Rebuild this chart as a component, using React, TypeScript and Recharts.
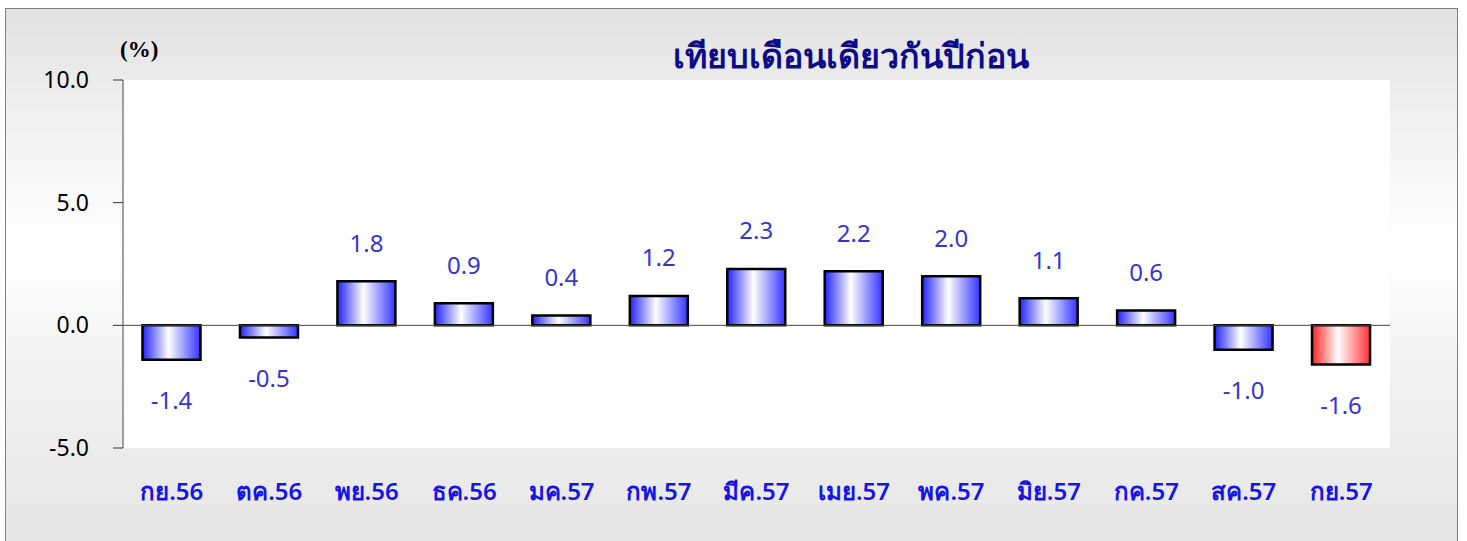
import { BarChart, Bar, XAxis, YAxis, CartesianGrid, ReferenceLine, Cell, LabelList } from 'recharts';

const months = ['กย.56', 'ตค.56', 'พย.56', 'ธค.56', 'มค.57', 'กพ.57', 'มีค.57', 'เมย.57', 'พค.57', 'มิย.57', 'กค.57', 'สค.57', 'กย.57'];
const yoy = [-1.4, -0.5, 1.8, 0.9, 0.4, 1.2, 2.3, 2.2, 2.0, 1.1, 0.6, -1.0, -1.6];
const yTicks = [-5, 0, 5, 10];

const data = months.map((m, i) => ({ month: m, value: yoy[i] }));

const FONT = '"Noto Sans", Tahoma, "DejaVu Sans", sans-serif';

const renderLabel = (props: any) => {
  const { x, y, width, height, value } = props;
  const cx = x + width / 2;
  // height is negative for negative values in recharts
  const top = Math.min(y, y + height);
  const bottom = Math.max(y, y + height);
  const ly = value >= 0 ? top - 39 : bottom + 40;
  return (
    <text x={cx} y={ly} textAnchor="middle" dominantBaseline="central" fill="#3535d0" fontSize={24} fontFamily={FONT}>
      {value.toFixed(1)}
    </text>
  );
};

export default function App() {
  return (
    <div
      style={{
        position: 'absolute',
        left: 5,
        top: 8,
        width: 1451,
        height: 540,
        border: '1px solid #808080',
        background: 'linear-gradient(to bottom, #e2e2e2 0%, #f4f4f4 25%, #ffffff 45%, #f0f0f0 70%, #e6e6e6 100%)',
        fontFamily: FONT,
      }}
    >
      <div style={{ position: 'absolute', left: 114, top: 28, fontFamily: '"Liberation Serif", serif', fontWeight: 'bold', fontSize: 23 }}>(%)</div>
      <div style={{ position: 'absolute', left: 0, width: 1690, top: 20, textAlign: 'center', color: '#0c0c8a', fontSize: 34, fontWeight: 600 }}>
        เทียบเดือนเดียวกันปีก่อน
      </div>
      <BarChart
        width={1451}
        height={533}
        data={data}
        margin={{ top: 71, right: 67, bottom: 34, left: 0 }}
        barCategoryGap="20%"
      >
        <defs>
          <linearGradient id="blueGrad" x1="0" y1="0" x2="1" y2="0">
            <stop offset="0%" stopColor="#2222ff" />
            <stop offset="45%" stopColor="#ffffff" />
            <stop offset="100%" stopColor="#3333ff" />
          </linearGradient>
          <linearGradient id="redGrad" x1="0" y1="0" x2="1" y2="0">
            <stop offset="0%" stopColor="#ff2222" />
            <stop offset="45%" stopColor="#ffffff" />
            <stop offset="100%" stopColor="#ff3333" />
          </linearGradient>
        </defs>
        <CartesianGrid horizontal={false} vertical={false} fill="#ffffff" />
        <XAxis
          dataKey="month"
          axisLine={false}
          tickLine={false}
          height={60}
          interval={0}
          tick={{ fill: '#1515e6', fontSize: 24, fontWeight: 600, fontFamily: FONT }}
          tickMargin={29}
        />
        <YAxis
          width={117}
          domain={[-5, 10]}
          ticks={yTicks}
          tickFormatter={(v: number) => v.toFixed(1)}
          axisLine={{ stroke: '#808080', strokeWidth: 1.5 }}
          tickLine={{ stroke: '#333' }}
          tickSize={10}
          tickMargin={24}
          tick={{ fill: '#000', fontSize: 23, fontFamily: FONT }}
        />
        <ReferenceLine y={0} stroke="#444" strokeWidth={1} />
        <Bar dataKey="value" stroke="#000" strokeWidth={2.5} isAnimationActive={false}>
          {data.map((d, i) => (
            <Cell key={d.month} fill={i === data.length - 1 ? 'url(#redGrad)' : 'url(#blueGrad)'} />
          ))}
          <LabelList dataKey="value" content={renderLabel} />
        </Bar>
      </BarChart>
    </div>
  );
}
